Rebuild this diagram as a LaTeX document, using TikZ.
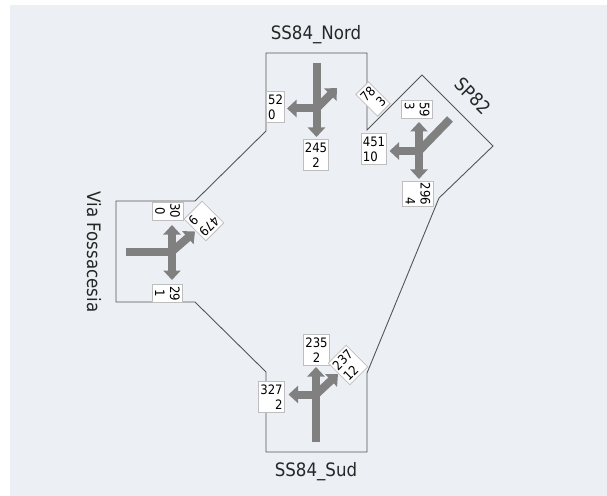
\documentclass[tikz,border=0pt]{standalone}
\usepackage{fontspec}
\setmainfont{DejaVu Sans}[FakeStretch=0.9]
\usetikzlibrary{arrows.meta}

\definecolor{panel}{RGB}{236,240,244}
\definecolor{mvgray}{RGB}{128,128,128}
\definecolor{roadline}{RGB}{85,85,85}
\definecolor{boxline}{RGB}{190,190,190}

\begin{document}
\begin{tikzpicture}[
  x=1bp, y=-1bp,
  road/.style={draw=roadline, line width=0.9bp},
  stem/.style={draw=mvgray, line width=8bp},
  mov/.style={stem, -{Triangle[length=9.5bp,width=17bp]}},
  vol/.style={draw=boxline, fill=white, line width=0.8bp, inner xsep=1.5bp, inner ysep=3bp, font=\fontsize{13bp}{15bp}\selectfont},
  lbl/.style={font=\fontsize{18.5bp}{20bp}\selectfont, text=black!85, inner sep=0pt},
]
\useasboundingbox (0,0) rectangle (607,496);
\fill[white] (0,0) rectangle (607,496);
\fill[panel] (10,5) rectangle (607,496);

% road outline
\draw[road] (266,53) -- (367,53) -- (367,130) -- (422,75) -- (493,146) -- (439,198)
  -- (367,373) -- (367,452) -- (266,452) -- (266,372) -- (195,302) -- (116,302)
  -- (116,201) -- (195,201) -- (266,131) -- cycle;

% junction points of the arms
\coordinate (jN) at (316.5,108.5);
\coordinate (jS) at (316,394.5);
\coordinate (jV) at (172,251.5);
\coordinate (jP) at (419,151);

% SS84_Nord
\draw[mov] (316.5,63) -- (316.5,137);
\draw[mov] (jN) -- (287,108.5);
\draw[mov] (jN) -- (337,88);
% SS84_Sud
\draw[mov] (316,442) -- (316,367);
\draw[mov] (jS) -- (288.5,394.5);
\draw[mov] (jS) -- (338,374);
% Via Fossacesia
\draw[stem] (126,251.5) -- (jV);
\draw[mov] (jV) -- (172,225);
\draw[mov] (jV) -- (172,280);
\draw[mov] (jV) -- (195,231.5);
% SP82
\draw[stem] (450,119) -- (jP);
\draw[mov] (jP) -- (419,122);
\draw[mov] (jP) -- (389.5,151);
\draw[mov] (jP) -- (419,179);

% volumes
\node[vol, align=left] (n52) at (275.5,107) {52\\0};
\node[vol, align=center] (n245) at (316,155) {245\\2};
\node[vol, align=right, rotate=45] (n78) at (373,99) {78\\3};
\node[vol, align=left] (n451) at (374,149) {451\\10};
\node[vol, align=left, rotate=-90] (n59) at (417,109.5) {59\\3};
\node[vol, align=right, rotate=-90] (n296) at (418,194) {296\\4};
\node[vol, align=center, rotate=-90] (n30) at (167.5,211) {30\\0};
\node[vol, align=center, rotate=-90] (n29) at (167.5,293.5) {29\\1};
\node[vol, align=right, rotate=-135] (n479) at (204,221) {479\\9};
\node[vol, align=center] (n235) at (316.5,350) {235\\2};
\node[vol, align=right] (n327) at (271.5,397) {327\\2};
\node[vol, align=left, rotate=45] (n237) at (348,365) {237\\12};

% arm names
\node[lbl] (nord) at (316,35) {SS84\_Nord};
\node[lbl] (sud) at (316,472) {SS84\_Sud};
\node[lbl, rotate=-90] (via) at (94,252) {Via Fossacesia};
\node[lbl, rotate=-45] (sp) at (473,96) {SP82};
\end{tikzpicture}
\end{document}
